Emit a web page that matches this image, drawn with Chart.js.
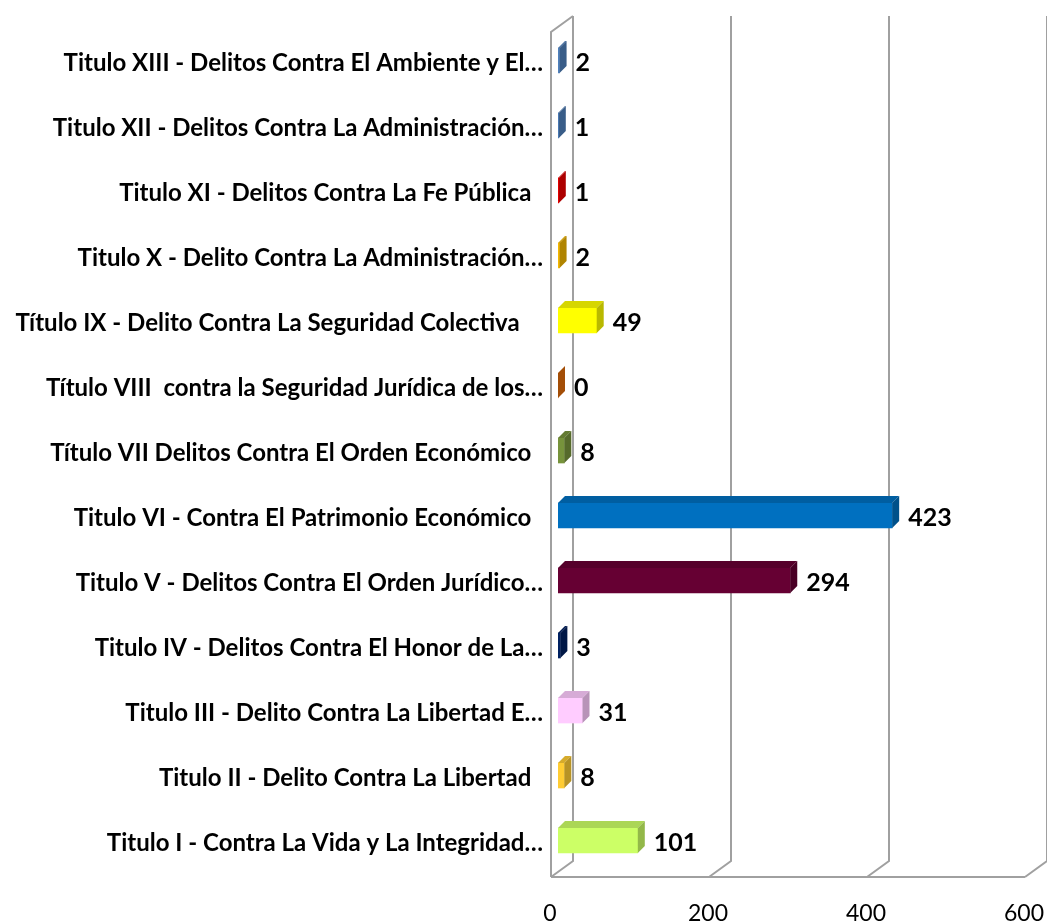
<!DOCTYPE html>
<html>
<head>
<meta charset="utf-8">
<script src="https://cdn.jsdelivr.net/npm/chart.js@4"></script>
<style>
  html, body { margin: 0; background: #fff; overflow: hidden; }
  #wrap { width: 1047px; height: 922px; position: relative; }
</style>
</head>
<body>
<div id="wrap"><canvas id="myChart"></canvas></div>
<script>
// data, top row first
const categories = [
    'Titulo XIII - Delitos Contra El Ambiente y El…',
    'Titulo XII - Delitos Contra La Administración…',
    'Titulo XI - Delitos Contra La Fe Pública  ',
    'Titulo X - Delito Contra La Administración…',
    'Título IX - Delito Contra La Seguridad Colectiva    ',
    'Título VIII  contra la Seguridad Jurídica de los…',
    'Título VII Delitos Contra El Orden Económico  ',
    'Titulo VI - Contra El Patrimonio Económico  ',
    'Titulo V - Delitos Contra El Orden Jurídico…',
    'Titulo IV - Delitos Contra El Honor de La…',
    'Titulo III - Delito Contra La Libertad E…',
    'Titulo II - Delito Contra La Libertad  ',
    'Titulo I - Contra La Vida y La Integridad…'
];
const values = [2, 1, 1, 2, 49, 0, 8, 423, 294, 3, 31, 8, 101];
const axisTicks = [0, 200, 400, 600];

const barColors = ['#4f81bd', '#4f81bd', '#f00000', '#f5b800', '#ffff00', '#e36c0a', '#77933c',
    '#0070c0', '#660033', '#002060', '#ffccff', '#ffcc33', '#ccff66'];

const DEPTH = 7;      // bar depth
const WALL_DX = 22;   // wall depth
const WALL_DY = 16;

function shade(hex, f) {
    const n = parseInt(hex.slice(1), 16);
    const r = Math.round(((n >> 16) & 255) * f);
    const g = Math.round(((n >> 8) & 255) * f);
    const b = Math.round((n & 255) * f);
    return 'rgb(' + r + ',' + g + ',' + b + ')';
}

function poly(ctx, pts, fill) {
    ctx.beginPath();
    ctx.moveTo(pts[0][0], pts[0][1]);
    for (let i = 1; i < pts.length; i++) ctx.lineTo(pts[i][0], pts[i][1]);
    ctx.closePath();
    ctx.fillStyle = fill;
    ctx.fill();
}

const bar3d = {
    id: 'bar3d',
    beforeDatasetsDraw(chart) {
        const ctx = chart.ctx;
        const xs = chart.scales.x;
        const area = chart.chartArea;
        const top = area.top + 4, bottom = area.bottom + 4;
        const front = v => xs.getPixelForValue(v) - 7;
        ctx.save();
        ctx.strokeStyle = '#a0a0a0';
        ctx.lineWidth = 2;
        ctx.beginPath();
        // left wall
        ctx.moveTo(front(0), bottom);
        ctx.lineTo(front(0), top);
        ctx.lineTo(front(0) + WALL_DX, top - WALL_DY);
        // floor front edge
        ctx.moveTo(front(0), bottom);
        ctx.lineTo(front(600), bottom);
        axisTicks.forEach(v => {
            const bx = front(v) + WALL_DX;
            ctx.moveTo(front(v), bottom);
            ctx.lineTo(bx, bottom - WALL_DY);
            ctx.lineTo(bx, top - WALL_DY);
        });
        ctx.stroke();
        ctx.restore();
    },
    afterDatasetsDraw(chart) {
        const ctx = chart.ctx;
        const meta = chart.getDatasetMeta(0);
        ctx.save();
        meta.data.forEach((bar, i) => {
            const p = bar.getProps(['x', 'y', 'base', 'height'], true);
            const t = p.y - p.height / 2, b = p.y + p.height / 2;
            const c = barColors[i];
            poly(ctx, [[p.base, t], [p.x, t], [p.x + DEPTH, t - DEPTH], [p.base + DEPTH, t - DEPTH]], shade(c, 0.84));
            poly(ctx, [[p.x, t], [p.x + DEPTH, t - DEPTH], [p.x + DEPTH, b - DEPTH], [p.x, b]], shade(c, 0.72));
            ctx.fillStyle = '#000';
            ctx.font = 'bold 25px Lato';
            ctx.textAlign = 'left';
            ctx.textBaseline = 'middle';
            ctx.fillText(String(values[i]), p.x + DEPTH + 9, p.y + 2);
        });
        ctx.restore();
    }
};

const ctx = document.getElementById('myChart').getContext('2d');
new Chart(ctx, {
    type: 'bar',
    data: {
        labels: categories,
        datasets: [{
            data: values,
            backgroundColor: barColors,
            borderWidth: 0,
            barThickness: 25
        }]
    },
    options: {
        indexAxis: 'y',
        responsive: true,
        maintainAspectRatio: false,
        animation: false,
        layout: { padding: { top: 28, right: 15, left: 0, bottom: 0 } },
        plugins: {
            legend: { display: false },
            tooltip: { enabled: false }
        },
        scales: {
            x: {
                min: 0,
                max: 600,
                afterBuildTicks: s => { s.ticks = axisTicks.map(v => ({ value: v })); },
                afterFit: s => { s.height = 49; s.paddingLeft = 0; s.paddingRight = 0; },
                grid: { display: false, drawTicks: false },
                border: { display: false },
                ticks: {
                    color: '#000',
                    font: { family: 'Lato', size: 23 },
                    padding: 27,
                    labelOffset: -8,
                    maxRotation: 0
                }
            },
            y: {
                afterFit: s => { s.width = 558; s.paddingTop = 0; s.paddingBottom = 0; },
                grid: { display: false, drawTicks: false },
                border: { display: false },
                ticks: {
                    color: '#000',
                    autoSkip: false,
                    font: { family: 'Lato', size: 24, weight: 'bold' },
                    padding: 15,
                    labelOffset: 3
                }
            }
        }
    },
    plugins: [bar3d]
});
</script>
</body>
</html>
